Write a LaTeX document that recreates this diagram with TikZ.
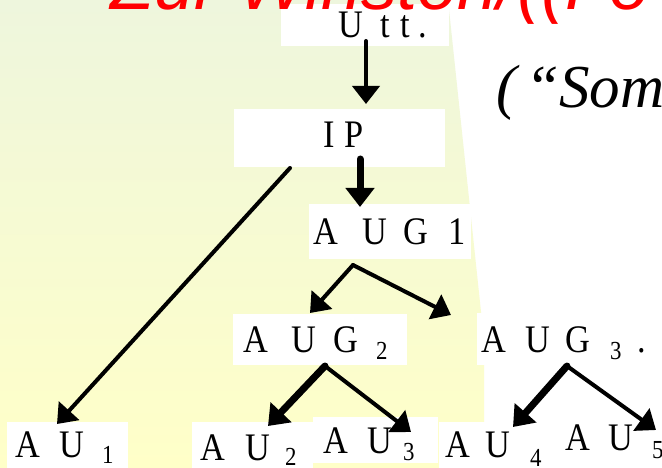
\documentclass[tikz,border=0pt]{standalone}
\usepackage{fontspec}
\setmainfont{Liberation Serif}
\newfontfamily\labfont[FakeStretch=0.88]{Liberation Serif}
\newfontfamily\titlefont{Liberation Sans}
\usetikzlibrary{arrows.meta}
\definecolor{bgtop}{RGB}{238,246,221}
\definecolor{bgbot}{RGB}{255,255,200}
\newcommand\cw[2]{\makebox[#1pt][l]{#2}}
\newcommand\lsub[2][-7pt]{\raisebox{#1}{\fontsize{26}{26}\selectfont #2}}
\tikzset{
  box/.style={rectangle, fill=white, draw=none, inner sep=0pt},
  lab/.style={font=\labfont\fontsize{39}{40}\selectfont, inner sep=0pt, anchor=base west},
  thinarrow/.style={line width=4pt, line cap=round, -{Triangle[length=18pt,width=27pt]}},
  thickarrow/.style={line width=7pt, line cap=round, -{Triangle[length=19pt,width=28pt]}},
}
\begin{document}
\begin{tikzpicture}[x=1pt,y=-1pt]
\useasboundingbox (0,0) rectangle (662,468);
\clip (0,0) rectangle (662,468);
\fill[white] (0,0) rectangle (662,468);
\shade[top color=bgtop, bottom color=bgbot] (0,0) -- (448,0) -- (484,340) -- (484,468) -- (0,468) -- cycle;

% boxes
\node[box, minimum width=168pt, minimum height=42pt] (utt) at (365,25) {};
\node[box, minimum width=211pt, minimum height=58pt] (ip) at (339.5,138) {};
\node[box, minimum width=162pt, minimum height=55pt] (aug1) at (390,231.5) {};
\node[box, minimum width=174pt, minimum height=51pt] (aug2) at (320,339.5) {};
\node[box, minimum width=185pt, minimum height=52pt] (aug3) at (569.5,339) {};
\node[box, minimum width=121pt, minimum height=46pt] (au1) at (67.5,445) {};
\node[box, minimum width=121pt, minimum height=46pt] (au2) at (252.5,445) {};
\node[box, minimum width=125pt, minimum height=46pt] (au3) at (375.5,440) {};
\node[box, minimum width=122pt, minimum height=46pt] (au4) at (500,445) {};
\node[box, minimum width=101pt, minimum height=51pt] (au5) at (611.5,442.5) {};

% labels
\node[lab] (uttt) at (338,38) {\cw{42}{U}\cw{20}{t}\cw{18}{t}.};
\node[lab] (ipt) at (323,148) {\cw{21}{I}P};
\node[lab] (aug1t) at (313,244) {\cw{49}{A}\cw{41}{U}\cw{45}{G}1};
\node[lab] (aug2t) at (243,352) {\cw{48}{A}\cw{42}{U}\cw{43}{G}\lsub{2}};
\node[lab] (aug3t) at (481,352) {\cw{44}{A}\cw{40}{U}\cw{45}{G}\cw{27}{\lsub{3}}.};
\node[lab] (au1t) at (15,457) {\cw{44}{A}\cw{43}{U}\lsub[-6pt]{1}};
\node[lab] (au2t) at (200,460) {\cw{45}{A}\cw{40}{U}\lsub[-5pt]{2}};
\node[lab] (au3t) at (323,453) {\cw{44}{A}\cw{36}{U}\lsub{3}};
\node[lab] (au4t) at (445,457) {\cw{40}{A}\cw{45}{U}\lsub[-9pt]{4}};
\node[lab] (au5t) at (565,450) {\cw{43}{A}\cw{44}{U}\lsub[-8pt]{5}};

% connector end points
\coordinate (uttout) at (366,41);
\coordinate (ipin) at (366,104);
\coordinate (ipout) at (360,159);
\coordinate (ipleft) at (290,168);
\coordinate (aug1in) at (360,207);
\coordinate (au1in) at (57,424);
\coordinate (aug1out) at (353,265);
\coordinate (aug2in) at (310,313);
\coordinate (aug3in) at (451,315);
\coordinate (aug2out) at (325,366);
\coordinate (au2in) at (268,426);
\coordinate (au3in) at (411,432);
\coordinate (aug3out) at (567,366);
\coordinate (au4in) at (513,427);
\coordinate (au5in) at (656,430);

% connectors
\draw[thinarrow] (uttout) -- (ipin);
\draw[thickarrow] (ipout) -- (aug1in);
\draw[thinarrow] (ipleft) -- (au1in);
\draw[thinarrow] (aug1out) -- (aug2in);
\draw[thinarrow] (aug1out) -- (aug3in);
\draw[thickarrow] (aug2out) -- (au2in);
\draw[thinarrow] (aug2out) -- (au3in);
\draw[thickarrow] (aug3out) -- (au4in);
\draw[thinarrow] (aug3out) -- (au5in);

% cut-off slide texts
\node[anchor=base west, text=red, inner sep=0pt, font=\titlefont\itshape\fontsize{72}{72}\selectfont] (title) at (110,10) {Zur Winston/((Fo};
\node[anchor=base west, inner sep=0pt, font=\itshape\fontsize{61}{61}\selectfont] (som) at (496,108) {(\hspace{9pt}“Som};
\end{tikzpicture}
\end{document}
